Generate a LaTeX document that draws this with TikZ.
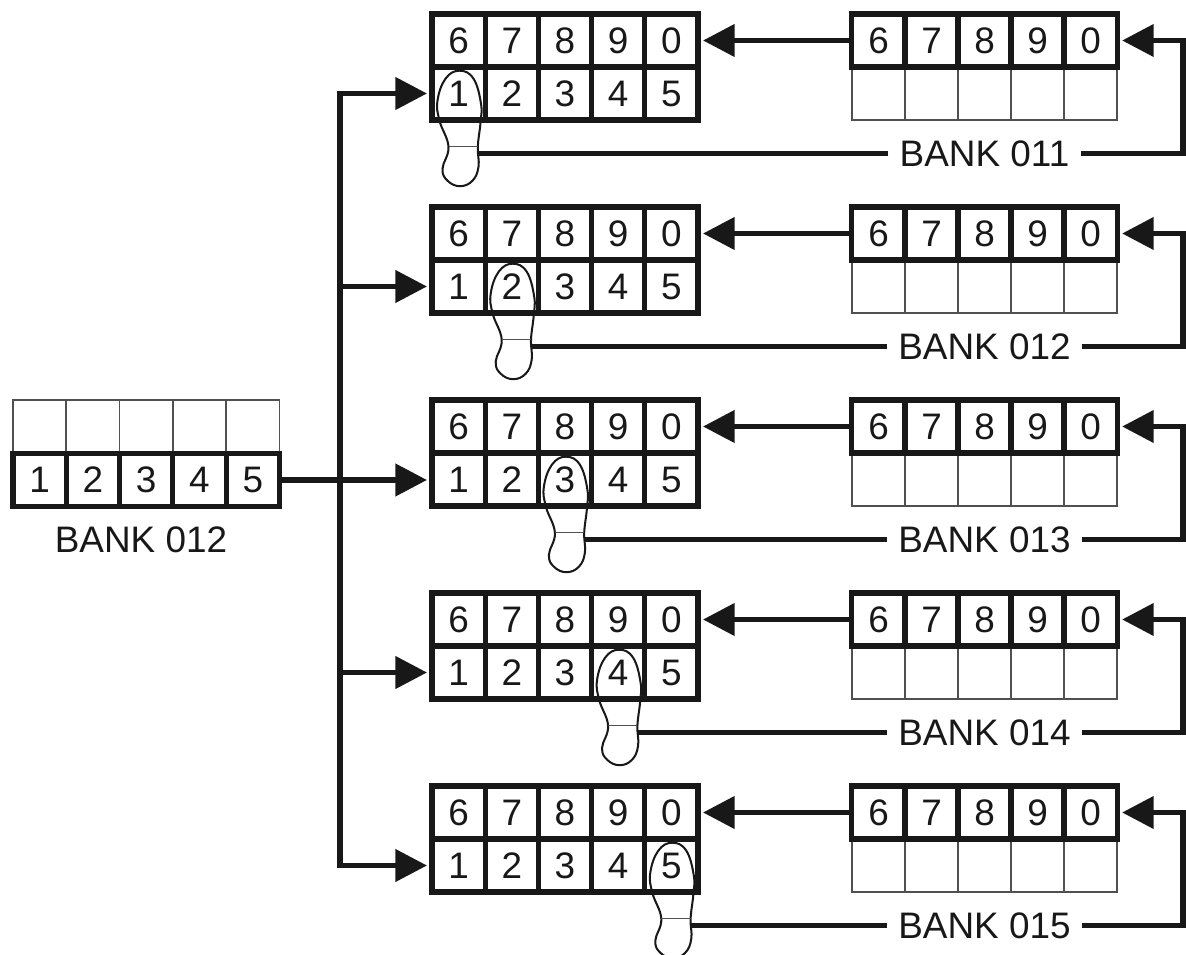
\documentclass[tikz,border=0pt]{standalone}
\usepackage{fontspec}
\setmainfont{Liberation Sans}
\usetikzlibrary{arrows.meta}
\definecolor{inkcolor}{RGB}{24,24,24}
\definecolor{thincolor}{RGB}{80,80,80}
\tikzset{
	keybox/.style={draw=inkcolor,line width=2.9pt,minimum width=1.064cm,minimum height=1.06cm,inner sep=0pt,text=inkcolor,font=\fontsize{21}{24}\selectfont},
	blankbox/.style={draw=thincolor,line width=0.9pt,minimum width=1.064cm,minimum height=1.06cm,inner sep=0pt},
	banklabel/.style={inner sep=0pt,inner xsep=6.2pt,text=inkcolor,font=\fontsize{21}{24}\selectfont},
	flow/.style={draw=inkcolor,line width=3.1pt},
	flowtip/.style={flow,-{Triangle[length=18pt,width=18pt]},shorten >=1.4pt},
	flowtips/.style={flow,{Triangle[length=18pt,width=18pt]}-{Triangle[length=18pt,width=18pt]},shorten >=1.4pt,shorten <=1.4pt},
	footprint/.pic={
		\draw[draw=inkcolor,line width=1.15pt] plot[smooth cycle,tension=0.7] coordinates {(0,0) (14,8) (21.5,33) (21,52) (18.3,76) (19,96) (13,110) (0.5,115.5) (-12,110) (-17,98) (-11,76) (-20,50) (-22,30) (-14,8)};
		\draw[draw=thincolor,line width=0.7pt] (-11,76) -- (18.3,76);
		\coordinate (-heel) at (18.5,83);
	}
}
\begin{document}
\begin{tikzpicture}[line cap=butt,line join=miter,x=0.02cm,y=-0.02cm]
	\useasboundingbox (0,0) rectangle (1186,955);
	\clip (0,0) rectangle (1186,955);
	\foreach \r/\n in {1/011,2/012,3/013,4/014,5/015} {
		\begin{scope}[shift={(0,{193*(\r-1)})}]
			\foreach \c/\u/\l in {1/6/1,2/7/2,3/8/3,4/9/4,5/0/5} {
				\node[blankbox] (e\r\c) at ({878.5+53*(\c-1)},93.5) {};
			}
			\foreach \c/\u/\l in {1/6/1,2/7/2,3/8/3,4/9/4,5/0/5} {
				\node[keybox] (u\r\c) at ({458.6+53.2*(\c-1)},40.5) {\u};
				\node[keybox] (l\r\c) at ({458.6+53.2*(\c-1)},93.5) {\l};
				\node[keybox] (b\r\c) at ({878.5+53*(\c-1)},40.5) {\u};
			}
			\node[banklabel] (bank\r) at (984.5,153.5) {BANK \n};
			\coordinate (turn\r) at (1183,40.5);
			\coordinate (trunk\r) at (340,93.5);
			\pic (foot\r) at ({459.5+53.2*(\r-1)},70.7) {footprint};
		\end{scope}
		\draw[flowtip] (b\r1.west) -- (u\r5.east);
		\draw[flowtip] (bank\r.east) -| (turn\r) -- (b\r5.east);
		\draw[flow] (bank\r.west) -- (bank\r.west -| foot\r-heel);
	}
	\foreach \c/\l in {1/1,2/2,3/3,4/4,5/5} {
		\node[blankbox] (e0\c) at ({39.6+53.3*(\c-1)},426.5) {};
	}
	\foreach \c/\l in {1/1,2/2,3/3,4/4,5/5} {
		\node[keybox] (s\c) at ({39.6+53.3*(\c-1)},480) {\l};
	}
	\node[banklabel] (srclabel) at (141,540) {BANK 012};
	\draw[flowtips] (l11.west) -- (trunk1) -- (trunk5) -- (l51.west);
	\foreach \r in {2,4} {
		\draw[flowtip] (trunk\r) -- (l\r1.west);
	}
	\draw[flowtip] (s5.east) -- (s5.east -| l31.west);
\end{tikzpicture}
\end{document}
